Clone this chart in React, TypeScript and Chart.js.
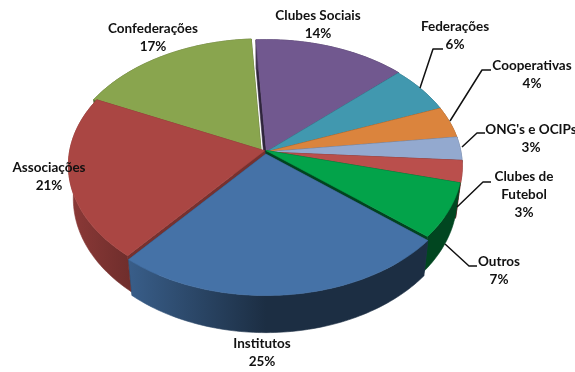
import React, { useEffect, useRef } from "react";
import { Chart, registerables } from "chart.js";

Chart.register(...registerables);

// Share of each entity type, clockwise from the top of the pie.
const categories = [
  "Clubes Sociais",
  "Federações",
  "Cooperativas",
  "ONG's e OCIPs",
  "Clubes de Futebol",
  "Outros",
  "Institutos",
  "Associações",
  "Confederações",
];
const shares = [14, 6, 4, 3, 3, 7, 25, 21, 17];
const sliceColors = [
  "#71588F", "#4198AF", "#DB843D", "#93A9CF", "#BA4F4C",
  "#03A34A", "#4572A7", "#AA4643", "#89A54E",
];

// Pull-out of each slice in the pie's plane, as a fraction of the radius.
const sliceShiftU = [0.002, 0, 0, 0, 0, 0, -0.001, -0.008, -0.025];
const sliceShiftV = [-0.004, 0, 0, 0, 0, -0.012, 0.016, -0.01, -0.012];
// Brightness of the rim at the far left and at the middle of the pie.
const rimShadeLeft = [0.6, 0.6, 0.6, 0.6, 0.6, 0.43, 1.0, 0.82, 0.6];
const rimShadeMiddle = [0.6, 0.6, 0.6, 0.6, 0.6, 0.43, 0.4, 0.27, 0.6];
// Brightness of the straight cut faces.
const cutShade = [0.42, 0.5, 0.5, 0.5, 0.5, 0.42, 0.5, 0.7, 0.45];

// Label text lines, anchor centre and optional leader line, by category order.
const labelLayout = [
  { lines: ["Clubes Sociais", "14%"], x: 318, y: 16 },
  { lines: ["Federações", "6%"], x: 455, y: 27, leader: [[420, 88], [433, 49], [443, 49]] },
  { lines: ["Cooperativas", "4%"], x: 532, y: 66, leader: [[450, 121], [482, 70], [491, 70]] },
  { lines: ["ONG's e OCIPs", "3%"], x: 531, y: 130, leader: [[462, 147], [477, 133], [485, 133]] },
  { lines: ["Clubes de", "Futebol", "3%"], x: 524, y: 177, leader: [[457, 207], [483, 182], [491, 182]] },
  { lines: ["Outros", "7%"], x: 499, y: 262, leader: [[445, 244], [469, 266], [477, 266]] },
  { lines: ["Institutos", "25%"], x: 262, y: 344 },
  { lines: ["Associações", "21%"], x: 49, y: 168 },
  { lines: ["Confederações", "17%"], x: 153, y: 29 },
];

const LABEL_FONT = "bold 13.5px Lato";
const LINE_HEIGHT = 18;

// Projection of the pie's plane: horizontal stretch, foreshortening, perspective and rim height.
const STRETCH_X = 195 / 152;
const STRETCH_Y = 124.8 / 152;
const PERSPECTIVE = 0.1146;
const RIM_DEPTH = 32.8;
const RIM_SHRINK = 0.025;

function shadeColor(hex: string, factor: number) {
  const n = parseInt(hex.slice(1), 16);
  const ch = (v: number) => Math.max(0, Math.min(255, Math.round(v * factor)));
  return `rgb(${ch((n >> 16) & 255)},${ch((n >> 8) & 255)},${ch(n & 255)})`;
}

const pie3d = {
  id: "pie3d",
  // The arcs are painted here, in tilted perspective, from the angles Chart.js computed.
  beforeDatasetDraw(chart: any, args: any) {
    const ctx: CanvasRenderingContext2D = chart.ctx;
    const meta = args.meta;
    const order = meta.data
      .map((el: any, i: number) => ({ el, i, mid: (el.startAngle + el.endAngle) / 2 }))
      .sort((a: any, b: any) => Math.sin(a.mid) - Math.sin(b.mid));

    for (const { el, i } of order) {
      const base = sliceColors[i];
      const r = el.outerRadius;
      const point = (u: number, v: number, z: number): [number, number] => {
        const pu = sliceShiftU[i] + u;
        const pv = sliceShiftV[i] + v;
        const den = 1 - PERSPECTIVE * pv;
        return [
          el.x + (r * STRETCH_X * pu * (1 - RIM_SHRINK * z)) / den,
          el.y + (r * STRETCH_Y * pv) / den + (RIM_DEPTH * z) / den,
        ];
      };
      const onRim = (a: number, z: number) => point(Math.cos(a), Math.sin(a), z);
      const fillPoly = (pts: [number, number][], color: string | CanvasGradient, edge = 0.6) => {
        ctx.beginPath();
        pts.forEach(([x, y], k) => (k ? ctx.lineTo(x, y) : ctx.moveTo(x, y)));
        ctx.closePath();
        ctx.fillStyle = color;
        ctx.strokeStyle = color;
        ctx.lineWidth = edge;
        ctx.fill();
        if (edge) ctx.stroke();
      };

      // Cut faces.
      const cut = shadeColor(base, cutShade[i]);
      for (const a of [el.startAngle, el.endAngle]) {
        fillPoly([point(0, 0, 0), onRim(a, 0), onRim(a, 1), point(0, 0, 1)], cut);
      }

      // Outer rim, one shape filled with a horizontal light-to-dark ramp.
      const steps = Math.max(4, Math.ceil((el.endAngle - el.startAngle) / 0.02));
      const da = (el.endAngle - el.startAngle) / steps;
      const upper: [number, number][] = [];
      const lower: [number, number][] = [];
      for (let s = 0; s <= steps; s++) {
        const a = el.startAngle + s * da;
        upper.push(onRim(a, 0));
        lower.unshift(onRim(a, 1));
      }
      const ramp = ctx.createLinearGradient(el.x - r * STRETCH_X, 0, el.x, 0);
      ramp.addColorStop(0, shadeColor(base, rimShadeLeft[i]));
      ramp.addColorStop(1, shadeColor(base, rimShadeMiddle[i]));
      fillPoly([...upper, ...lower], ramp);

      // Top face.
      fillPoly([point(0, 0, 0), ...upper], base);
    }
    return false;
  },
  afterDraw(chart: any) {
    const ctx: CanvasRenderingContext2D = chart.ctx;
    ctx.save();
    ctx.strokeStyle = "#111";
    ctx.lineWidth = 1.5;
    ctx.lineJoin = "round";
    ctx.fillStyle = "#111";
    ctx.font = LABEL_FONT;
    ctx.textAlign = "center";
    ctx.textBaseline = "middle";
    for (const item of labelLayout) {
      if (item.leader) {
        ctx.beginPath();
        item.leader.forEach(([x, y], k) => (k ? ctx.lineTo(x, y) : ctx.moveTo(x, y)));
        ctx.stroke();
      }
      item.lines.forEach((line, k) => ctx.fillText(line, item.x, item.y + k * LINE_HEIGHT));
    }
    ctx.restore();
  },
};

export default function App() {
  const canvasRef = useRef<HTMLCanvasElement>(null);

  useEffect(() => {
    const chart = new Chart(canvasRef.current!, {
      type: "pie",
      data: {
        labels: categories,
        datasets: [{ data: shares, backgroundColor: sliceColors, borderWidth: 0 }],
      },
      options: {
        animation: false,
        responsive: false,
        rotation: -3.4,
        layout: { padding: { left: 0, right: 43, top: 0, bottom: 68 } },
        plugins: { legend: { display: false }, tooltip: { enabled: false } },
      },
      plugins: [pie3d],
    } as any);
    return () => chart.destroy();
  }, []);

  return (
    <div style={{ position: "fixed", left: 0, top: 0, width: 575, height: 372, background: "#fff" }}>
      <canvas ref={canvasRef} width={575} height={372} style={{ display: "block" }} />
    </div>
  );
}
